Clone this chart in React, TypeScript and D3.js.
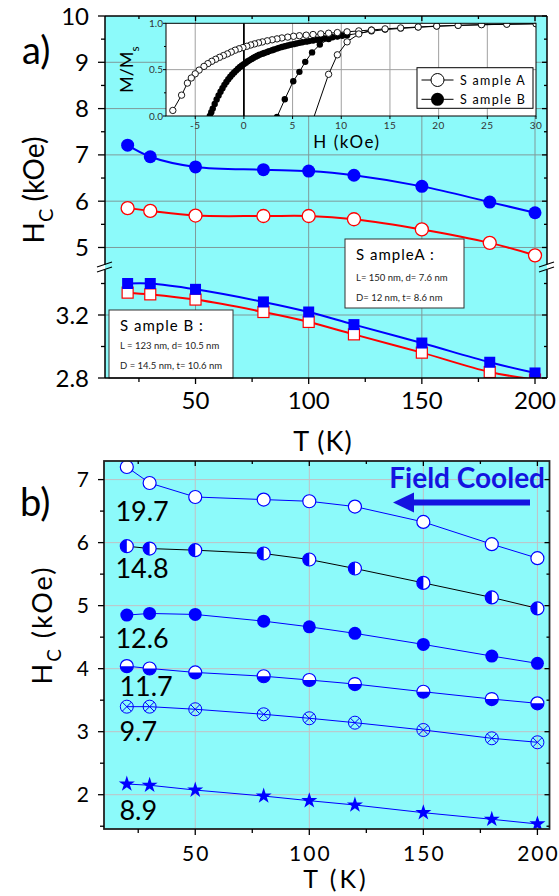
import React from "react";
import * as d3 from "d3";

const FONT = "Lato, 'Open Sans', sans-serif";
const BG = "#8cfafa";
const BLUE = "#0000ff";
const RED = "#ff0000";

// ---------- panel a data ----------
const temps = [20, 30, 50, 80, 100, 120, 150, 180, 200];
const bCircles = [7.21, 6.96, 6.74, 6.68, 6.65, 6.56, 6.32, 5.98, 5.75];
const aCircles = [5.85, 5.79, 5.69, 5.68, 5.68, 5.61, 5.39, 5.1, 4.83];
const bSquares = [3.4, 3.4, 3.363, 3.283, 3.219, 3.139, 3.022, 2.9, 2.832];
const aSquares = [3.342, 3.331, 3.298, 3.219, 3.156, 3.077, 2.961, 2.838, 2.79];
const aUpperTicks = [5, 6, 7, 8, 9, 10];
const aUpperMinor = [5.5, 6.5, 7.5, 8.5, 9.5];
const aLowerTicks = [2.8, 3.2];
const aLowerMinor = [3.0, 3.4];
const xTicks = [50, 100, 150, 200];
const xMinor = [25, 75, 125, 175];

// ---------- inset data (H kOe, M/Ms) ----------
const insetADown: [number, number][] = [
  [30, 0.995], [27, 0.99], [24.4, 0.985], [22, 0.978], [19.8, 0.97], [17.9, 0.96],
  [16.1, 0.95], [14.5, 0.94], [13.1, 0.928], [11.8, 0.918], [10.6, 0.908], [9.6, 0.9],
  [8.7, 0.893], [7.9, 0.886], [7.1, 0.879], [6.4, 0.872], [5.7, 0.866], [5.1, 0.86],
  [4.5, 0.851], [3.9, 0.842], [3.4, 0.832], [2.9, 0.822], [2.4, 0.811], [1.9, 0.799],
  [1.5, 0.789], [1.1, 0.778], [0.7, 0.766], [0.3, 0.752], [-0.1, 0.738], [-0.5, 0.725],
  [-0.9, 0.71], [-1.3, 0.69], [-1.7, 0.67], [-2.1, 0.652], [-2.5, 0.633], [-2.9, 0.612],
  [-3.3, 0.59], [-3.7, 0.565], [-4.1, 0.535], [-4.6, 0.495], [-5.0, 0.455], [-5.4, 0.41],
  [-5.8, 0.355], [-6.4, 0.225], [-7.3, 0.06],
];
const insetAUp: [number, number][] = [
  [6.9, -0.1], [8.7, 0.45], [9.6, 0.66], [10.6, 0.8], [11.8, 0.885], [13.1, 0.925],
];
const insetBDown: [number, number][] = [
  [30, 0.995], [27, 0.99], [24.4, 0.984], [22, 0.977], [19.8, 0.968], [17.9, 0.957],
  [16.1, 0.945], [14.5, 0.932], [13.1, 0.915], [11.8, 0.893], [10.6, 0.872], [10.1, 0.865],
  [9.6, 0.858], [9.1, 0.85], [8.7, 0.843], [8.3, 0.836], [7.9, 0.829], [7.5, 0.822],
  [7.1, 0.815], [6.7, 0.808], [6.4, 0.802], [6.0, 0.795], [5.7, 0.789], [5.4, 0.782],
  [5.1, 0.775], [4.8, 0.768], [4.5, 0.761], [4.2, 0.753], [3.9, 0.744], [3.6, 0.735],
  [3.4, 0.727], [3.1, 0.718], [2.9, 0.71], [2.6, 0.7], [2.4, 0.69], [2.1, 0.68],
  [1.9, 0.672], [1.6, 0.66], [1.4, 0.65], [1.2, 0.64], [1.0, 0.628], [0.8, 0.616],
  [0.6, 0.603], [0.4, 0.59], [0.2, 0.575], [0.0, 0.56], [-0.2, 0.545], [-0.4, 0.528],
  [-0.6, 0.51], [-0.8, 0.49], [-1.0, 0.469], [-1.2, 0.447], [-1.4, 0.423], [-1.6, 0.397],
  [-1.8, 0.368], [-2.0, 0.336], [-2.2, 0.3], [-2.4, 0.262], [-2.6, 0.222], [-2.8, 0.178],
  [-3.0, 0.13], [-3.2, 0.08], [-3.35, 0.04], [-3.5, 0.0],
];
const insetBUp: [number, number][] = [
  [3.4, -0.01], [4.2, 0.18], [5.07, 0.375], [5.7, 0.476], [6.3, 0.584], [7.0, 0.686],
  [7.8, 0.77], [8.7, 0.83], [9.6, 0.862], [10.6, 0.885],
];
const insetXTicks = [-5, 0, 5, 10, 15, 20, 25, 30];
const insetYTicks = [0, 0.5, 1];

// ---------- panel b data ----------
const fc197 = [7.2, 6.946, 6.724, 6.683, 6.656, 6.572, 6.328, 5.975, 5.753];
const fc148 = [5.943, 5.906, 5.88, 5.827, 5.732, 5.589, 5.361, 5.13, 4.956];
const fc126 = [4.85, 4.876, 4.86, 4.754, 4.664, 4.56, 4.385, 4.2, 4.084];
const fc117 = [4.04, 4.003, 3.94, 3.88, 3.82, 3.756, 3.634, 3.518, 3.45];
const fc97 = [3.397, 3.397, 3.356, 3.276, 3.213, 3.143, 3.027, 2.895, 2.832];
const fc89 = [2.17, 2.15, 2.074, 1.979, 1.905, 1.837, 1.715, 1.61, 1.536];
const bLabels = ["19.7", "14.8", "12.6", "11.7", "9.7", "8.9"];
const bLabelY = [6.34, 5.436, 4.327, 3.566, 2.847, 1.6];
const bYTicks = [2, 3, 4, 5, 6, 7];
const bYMinor = [1.5, 2.5, 3.5, 4.5, 5.5, 6.5];

// ---------- geometry ----------
const A = { l: 105, r: 547, t: 16, b: 378, brk: 267 };
const xA = d3.scaleLinear().domain([10, 205.3]).range([A.l, A.r]);
const yAU = d3.scaleLinear().domain([4.6, 10]).range([266, 16]);
const yAL = d3.scaleLinear().domain([2.8, 3.2]).range([378, 315]);

const I = { l: 166, r: 536, t: 23.3, b: 116 };
const xI = d3.scaleLinear().domain([-8, 30]).range([I.l, I.r]);
const yI = d3.scaleLinear().domain([0, 1]).range([I.b, I.t]);

const B = { l: 104, r: 549.5, t: 461, b: 829 };
const xB = d3.scaleLinear().domain([10, 205.3]).range([B.l, B.r]);
const yB = d3.scaleLinear().domain([1.456, 7.295]).range([B.b, B.t]);

const smooth = (ys: number[], ysc: d3.ScaleLinear<number, number>) =>
  d3.line<number>().x((_, i) => xA(temps[i])).y((v) => ysc(v)).curve(d3.curveCatmullRom.alpha(0.5))(ys) || "";
const straightB = (ys: number[]) =>
  d3.line<number>().x((_, i) => xB(temps[i])).y((v) => yB(v))(ys) || "";
const insetLine = (pts: [number, number][]) =>
  d3.line<[number, number]>().x((d) => xI(d[0])).y((d) => yI(d[1]))(pts) || "";

const R = 6.5;
const starPath = d3.symbol().type(d3.symbolStar).size(80)() || "";

export default function App() {
  return (
    <svg width={559} height={896} style={{ position: "absolute", left: 0, top: 0, background: "#fff" }} fontFamily={FONT}>
      <defs>
        <clipPath id="clipA"><rect x={A.l} y={A.t} width={A.r - A.l} height={A.b - A.t} /></clipPath>
        <clipPath id="clipI"><rect x={I.l} y={I.t} width={I.r - I.l} height={I.b - I.t} /></clipPath>
        <clipPath id="clipB"><rect x={B.l} y={B.t} width={B.r - B.l} height={B.b - B.t} /></clipPath>
      </defs>

      {/* ================= PANEL A ================= */}
      <rect x={A.l} y={A.t} width={A.r - A.l} height={A.b - A.t} fill={BG} />
      {xTicks.map((t) => (
        <line key={"gxa" + t} x1={xA(t)} x2={xA(t)} y1={A.t} y2={A.b} stroke="#7f9a9a" strokeWidth={1} />
      ))}
      {aUpperTicks.filter((t) => t < 10).map((t) => (
        <line key={"gya" + t} x1={A.l} x2={A.r} y1={yAU(t)} y2={yAU(t)} stroke="#7f9a9a" strokeWidth={1} />
      ))}
      <line x1={A.l} x2={A.r} y1={yAL(3.2)} y2={yAL(3.2)} stroke="#7f9a9a" strokeWidth={1} />

      <g clipPath="url(#clipA)">
        <path d={smooth(bCircles, yAU)} fill="none" stroke={BLUE} strokeWidth={2} />
        <path d={smooth(aCircles, yAU)} fill="none" stroke={RED} strokeWidth={2} />
        <path d={smooth(bSquares, yAL)} fill="none" stroke={BLUE} strokeWidth={2} />
        <path d={smooth(aSquares, yAL)} fill="none" stroke={RED} strokeWidth={2} />
        {temps.map((t, i) => (
          <circle key={"bc" + i} cx={xA(t)} cy={yAU(bCircles[i])} r={R} fill={BLUE} />
        ))}
        {temps.map((t, i) => (
          <circle key={"ac" + i} cx={xA(t)} cy={yAU(aCircles[i])} r={R} fill="#fff" stroke={RED} strokeWidth={1.3} />
        ))}
        {temps.map((t, i) => (
          <rect key={"as" + i} x={xA(t) - 5.5} y={yAL(aSquares[i]) - 5.5} width={11} height={11} fill="#fff" stroke={RED} strokeWidth={1.2} />
        ))}
        {temps.map((t, i) => (
          <rect key={"bs" + i} x={xA(t) - 5.5} y={yAL(bSquares[i]) - 5.5} width={11} height={11} fill={BLUE} />
        ))}
      </g>

      <g>
        <rect x={109} y={310} width={124} height={68} fill="#fff" stroke="#333" strokeWidth={1} />
        <text x={120} y={331} fontSize={15} letterSpacing={1}>S ample B :</text>
        <text x={120} y={349} fontSize={9.5} fill="#222">L = 123 nm, d= 10.5 nm</text>
        <text x={120} y={369} fontSize={9.5} fill="#222">D = 14.5 nm, t= 10.6 nm</text>
        <rect x={345} y={239} width={119} height={69} fill="#fff" stroke="#333" strokeWidth={1} />
        <text x={356} y={260} fontSize={15} letterSpacing={1}>S ampleA :</text>
        <text x={356} y={281} fontSize={9.5} fill="#222">L= 150 nm, d= 7.6 nm</text>
        <text x={356} y={301} fontSize={9.5} fill="#222">D= 12 nm, t= 8.6 nm</text>
      </g>

      {/* ---- inset ---- */}
      <rect x={I.l} y={I.t} width={I.r - I.l} height={I.b - I.t} fill="#fff" />
      {insetXTicks.filter((t) => t !== 0 && t !== 30).map((t) => (
        <line key={"igx" + t} x1={xI(t)} x2={xI(t)} y1={I.t} y2={I.b} stroke="#a0a0a0" strokeWidth={1} />
      ))}
      <line x1={I.l} x2={I.r} y1={yI(0.5)} y2={yI(0.5)} stroke="#a0a0a0" strokeWidth={1} />
      <line x1={xI(0)} x2={xI(0)} y1={I.t} y2={I.b} stroke="#000" strokeWidth={1.8} />
      <g clipPath="url(#clipI)">
        <path d={insetLine(insetBDown)} fill="none" stroke="#000" strokeWidth={1} />
        <path d={insetLine(insetBUp)} fill="none" stroke="#000" strokeWidth={1} />
        {insetBDown.map((d, i) => (
          <circle key={"ibd" + i} cx={xI(d[0])} cy={yI(d[1])} r={3.2} fill="#000" />
        ))}
        {insetBUp.map((d, i) => (
          <circle key={"ibu" + i} cx={xI(d[0])} cy={yI(d[1])} r={3.2} fill="#000" />
        ))}
        <path d={insetLine(insetADown)} fill="none" stroke="#000" strokeWidth={1} />
        <path d={insetLine(insetAUp)} fill="none" stroke="#000" strokeWidth={1} />
        {insetADown.map((d, i) => (
          <circle key={"iad" + i} cx={xI(d[0])} cy={yI(d[1])} r={3.2} fill="#fff" stroke="#000" strokeWidth={0.9} />
        ))}
        {insetAUp.map((d, i) => (
          <circle key={"iau" + i} cx={xI(d[0])} cy={yI(d[1])} r={3.2} fill="#fff" stroke="#000" strokeWidth={0.9} />
        ))}
      </g>
      <rect x={I.l} y={I.t} width={I.r - I.l} height={I.b - I.t} fill="none" stroke="#000" strokeWidth={1} />
      {insetXTicks.map((t) => (
        <g key={"ixt" + t}>
          <line x1={xI(t)} x2={xI(t)} y1={I.b} y2={I.b + 3} stroke="#000" />
          <text x={xI(t)} y={I.b + 13} fontSize={10} textAnchor="middle" fill="#333" letterSpacing={0.5}>{t}</text>
        </g>
      ))}
      {insetYTicks.map((t) => (
        <g key={"iyt" + t}>
          <line x1={I.l - 3} x2={I.l} y1={yI(t)} y2={yI(t)} stroke="#000" />
          <text x={I.l - 3} y={yI(t) + 3.5} fontSize={10} textAnchor="end" fill="#333">{t.toFixed(1)}</text>
        </g>
      ))}
      {[0.25, 0.75].map((t) => (
        <line key={"iym" + t} x1={I.l - 2} x2={I.l} y1={yI(t)} y2={yI(t)} stroke="#000" />
      ))}
      <text x={347} y={148} fontSize={17} textAnchor="middle" letterSpacing={1.5}>H (kOe)</text>
      <text transform="translate(133,93) rotate(-90)" fontSize={18}>
        M/M<tspan fontSize={12} dy={6}>s</tspan>
      </text>
      <rect x={417} y={67.7} width={116} height={40.6} fill="#fff" stroke="#000" strokeWidth={1} />
      <line x1={421.5} x2={453.5} y1={80} y2={80} stroke="#000" strokeWidth={1} />
      <circle cx={437.5} cy={80} r={6.5} fill="#fff" stroke="#000" strokeWidth={1} />
      <text x={460} y={84.5} fontSize={12.5} letterSpacing={1.3}>S ample A</text>
      <line x1={421.5} x2={453.5} y1={99.3} y2={99.3} stroke="#000" strokeWidth={1} />
      <circle cx={437.5} cy={99.3} r={6.5} fill="#000" />
      <text x={460} y={103.8} fontSize={12.5} letterSpacing={1.3}>S ample B</text>

      {/* panel a frame with axis break */}
      <line x1={A.l} x2={A.r} y1={A.t} y2={A.t} stroke="#000" strokeWidth={1.5} />
      <line x1={A.l} x2={A.r} y1={A.b} y2={A.b} stroke="#000" strokeWidth={1.5} />
      <line x1={A.l} x2={A.l} y1={A.t} y2={A.brk - 2.5} stroke="#000" strokeWidth={1.5} />
      <line x1={A.l} x2={A.l} y1={A.brk + 2.5} y2={A.b} stroke="#000" strokeWidth={1.5} />
      <line x1={A.r} x2={A.r} y1={A.t} y2={A.brk - 2.5} stroke="#000" strokeWidth={1.5} />
      <line x1={A.r} x2={A.r} y1={A.brk + 2.5} y2={A.b} stroke="#000" strokeWidth={1.5} />
      {[A.l, A.r].map((x) => (
        <g key={"brk" + x}>
          <line x1={x - 8} x2={x + 7} y1={A.brk + 0} y2={A.brk - 5} stroke="#000" strokeWidth={1.3} />
          <line x1={x - 8} x2={x + 7} y1={A.brk + 5} y2={A.brk} stroke="#000" strokeWidth={1.3} />
        </g>
      ))}
      {aUpperTicks.map((t) => (
        <g key={"yau" + t}>
          <line x1={A.l - 7} x2={A.l} y1={yAU(t)} y2={yAU(t)} stroke="#000" strokeWidth={1.3} />
          <line x1={A.r - 5} x2={A.r} y1={yAU(t)} y2={yAU(t)} stroke="#000" strokeWidth={1.3} />
          <text x={89} y={yAU(t) + 8.5} fontSize={24} textAnchor="end">{t}</text>
        </g>
      ))}
      {aUpperMinor.map((t) => (
        <g key={"yaum" + t}>
          <line x1={A.l - 4} x2={A.l} y1={yAU(t)} y2={yAU(t)} stroke="#000" strokeWidth={1.3} />
          <line x1={A.r - 3} x2={A.r} y1={yAU(t)} y2={yAU(t)} stroke="#000" strokeWidth={1.3} />
        </g>
      ))}
      {aLowerTicks.map((t) => (
        <g key={"yal" + t}>
          <line x1={A.l - 7} x2={A.l} y1={yAL(t)} y2={yAL(t)} stroke="#000" strokeWidth={1.3} />
          <line x1={A.r - 5} x2={A.r} y1={yAL(t)} y2={yAL(t)} stroke="#000" strokeWidth={1.3} />
          <text x={89} y={yAL(t) + 8.5} fontSize={24} textAnchor="end">{t.toFixed(1)}</text>
        </g>
      ))}
      {aLowerMinor.map((t) => (
        <g key={"yalm" + t}>
          <line x1={A.l - 4} x2={A.l} y1={yAL(t)} y2={yAL(t)} stroke="#000" strokeWidth={1.3} />
          <line x1={A.r - 3} x2={A.r} y1={yAL(t)} y2={yAL(t)} stroke="#000" strokeWidth={1.3} />
        </g>
      ))}
      {xTicks.map((t) => (
        <g key={"xa" + t}>
          <line x1={xA(t)} x2={xA(t)} y1={A.b} y2={A.b + 6} stroke="#000" strokeWidth={1.3} />
          <line x1={xA(t)} x2={xA(t)} y1={A.t} y2={A.t + 5} stroke="#000" strokeWidth={1.3} />
          <text x={xA(t)} y={409} fontSize={24} textAnchor="middle">{t}</text>
        </g>
      ))}
      {xMinor.map((t) => (
        <g key={"xam" + t}>
          <line x1={xA(t)} x2={xA(t)} y1={A.b} y2={A.b + 4} stroke="#000" strokeWidth={1.3} />
          <line x1={xA(t)} x2={xA(t)} y1={A.t} y2={A.t + 3} stroke="#000" strokeWidth={1.3} />
        </g>
      ))}
      <text x={323} y={451} fontSize={27} textAnchor="middle" letterSpacing={1}>T (K)</text>
      <text transform="translate(44,190) rotate(-90)" fontSize={28} textAnchor="middle">
        H<tspan fontSize={20} dy={9}>C</tspan><tspan dy={-9}> (kOe)</tspan>
      </text>
      <text x={22} y={64} fontSize={38}>a)</text>

      {/* ================= PANEL B ================= */}
      <rect x={B.l} y={B.t} width={B.r - B.l} height={B.b - B.t} fill={BG} />
      {xTicks.map((t) => (
        <line key={"gxb" + t} x1={xB(t)} x2={xB(t)} y1={B.t} y2={B.b} stroke="#c2c0c4" strokeWidth={1} />
      ))}
      {bYTicks.map((t) => (
        <line key={"gyb" + t} x1={B.l} x2={B.r} y1={yB(t)} y2={yB(t)} stroke="#c2c0c4" strokeWidth={1} />
      ))}
      <text x={545} y={488} fontSize={28} fontWeight="bold" textAnchor="end" fill="#1414e0">Field Cooled</text>
      <line x1={530} x2={408} y1={502.5} y2={502.5} stroke="#1414e0" strokeWidth={6} />
      <path d="M393,502.5 L414,492.5 L414,512.5 Z" fill="#1414e0" />

      <g clipPath="url(#clipB)">
        <path d={straightB(fc197)} fill="none" stroke={BLUE} strokeWidth={1} />
        <path d={straightB(fc148)} fill="none" stroke="#000" strokeWidth={1} />
        <path d={straightB(fc126)} fill="none" stroke={BLUE} strokeWidth={1} />
        <path d={straightB(fc117)} fill="none" stroke={BLUE} strokeWidth={1} />
        <path d={straightB(fc97)} fill="none" stroke={BLUE} strokeWidth={1} />
        <path d={straightB(fc89)} fill="none" stroke={BLUE} strokeWidth={1} />
        {temps.map((t, i) => {
          const x = xB(t);
          return (
            <g key={"bm" + i}>
              <circle cx={x} cy={yB(fc197[i])} r={R} fill="#fff" stroke={BLUE} strokeWidth={1.2} />
              <g transform={`translate(${x},${yB(fc148[i])})`}>
                <circle r={R} fill="#fff" />
                <path d={`M0,${-R} A${R},${R} 0 0 0 0,${R} Z`} fill={BLUE} />
                <circle r={R} fill="none" stroke={BLUE} strokeWidth={1.2} />
              </g>
              <circle cx={x} cy={yB(fc126[i])} r={R} fill={BLUE} />
              <g transform={`translate(${x},${yB(fc117[i])})`}>
                <circle r={R} fill="#fff" />
                <path d={`M${-R},0 A${R},${R} 0 0 0 ${R},0 Z`} fill={BLUE} />
                <circle r={R} fill="none" stroke={BLUE} strokeWidth={1.2} />
              </g>
              <g transform={`translate(${x},${yB(fc97[i])})`} stroke={BLUE} strokeWidth={1} fill="none">
                <circle r={R} />
                <line x1={-4.6} y1={-4.6} x2={4.6} y2={4.6} />
                <line x1={-4.6} y1={4.6} x2={4.6} y2={-4.6} />
              </g>
              <path d={starPath} transform={`translate(${x},${yB(fc89[i])})`} fill={BLUE} />
            </g>
          );
        })}
      </g>
      {bLabels.map((s, i) => (
        <text key={"bl" + s} x={xB(15) + (i < 3 ? 0 : 4)} y={yB(bLabelY[i])} fontSize={27}>{s}</text>
      ))}
      <rect x={B.l} y={B.t} width={B.r - B.l} height={B.b - B.t} fill="none" stroke="#222" strokeWidth={1.8} />
      {bYTicks.map((t) => (
        <g key={"yb" + t}>
          <line x1={B.l - 6} x2={B.l} y1={yB(t)} y2={yB(t)} stroke="#000" strokeWidth={1.3} />
          <line x1={B.r - 5} x2={B.r} y1={yB(t)} y2={yB(t)} stroke="#000" strokeWidth={1.3} />
          <text x={89} y={yB(t) + 7.5} fontSize={21} textAnchor="end">{t}</text>
        </g>
      ))}
      {bYMinor.map((t) => (
        <g key={"ybm" + t}>
          <line x1={B.l - 4} x2={B.l} y1={yB(t)} y2={yB(t)} stroke="#000" strokeWidth={1.3} />
          <line x1={B.r - 3} x2={B.r} y1={yB(t)} y2={yB(t)} stroke="#000" strokeWidth={1.3} />
        </g>
      ))}
      {xTicks.map((t) => (
        <g key={"xb" + t}>
          <line x1={xB(t)} x2={xB(t)} y1={B.b} y2={B.b + 6} stroke="#000" strokeWidth={1.3} />
          <line x1={xB(t)} x2={xB(t)} y1={B.t} y2={B.t + 5} stroke="#000" strokeWidth={1.3} />
          <text x={xB(t) + 1} y={861} fontSize={21} textAnchor="middle" letterSpacing={2}>{t}</text>
        </g>
      ))}
      {xMinor.map((t) => (
        <g key={"xbm" + t}>
          <line x1={xB(t)} x2={xB(t)} y1={B.b} y2={B.b + 4} stroke="#000" strokeWidth={1.3} />
          <line x1={xB(t)} x2={xB(t)} y1={B.t} y2={B.t + 3} stroke="#000" strokeWidth={1.3} />
        </g>
      ))}
      <text x={336} y={888} fontSize={25} textAnchor="middle" letterSpacing={3}>T (K)</text>
      <text transform="translate(52,625) rotate(-90)" fontSize={27} textAnchor="middle" letterSpacing={2}>
        H<tspan fontSize={19} dy={9}>C</tspan><tspan dy={-9}> (kOe)</tspan>
      </text>
      <text x={20} y={516} fontSize={38}>b)</text>
    </svg>
  );
}
